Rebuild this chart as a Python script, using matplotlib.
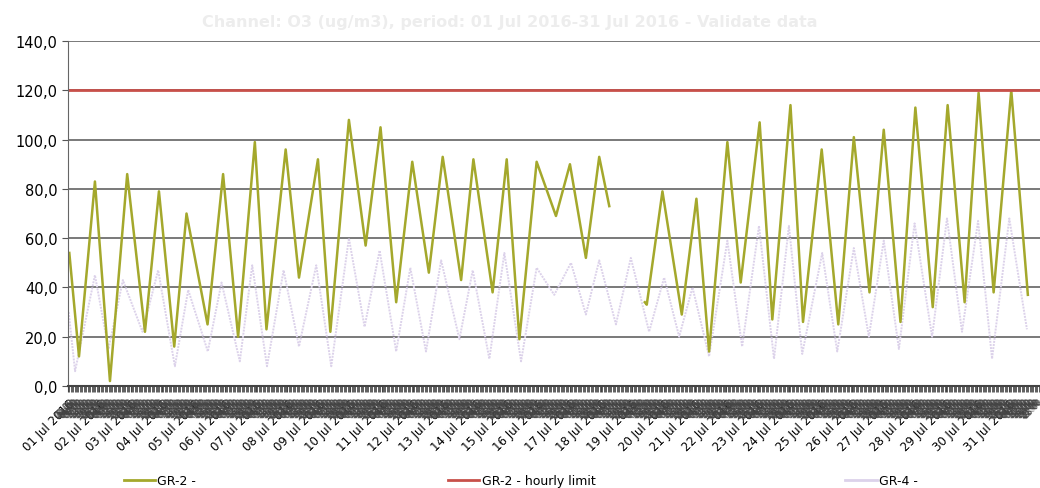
import numpy as np
import matplotlib
matplotlib.use("Agg")
import matplotlib.pyplot as plt
from matplotlib.lines import Line2D

# hours since 01 Jul 2016 00:00, read at the peaks and troughs of the curves
gr2_hours = [1, 8.4, 20.6, 32.1, 45.3, 58.9, 69.6, 81.3, 90.7, 106.8, 118.7, 130.2,
             143, 151.9, 166.6, 176.8, 191.3, 200.8, 215, 227.8, 239.2, 251.2, 263.5,
             276.2, 286.8, 300.9, 310.3, 325, 335.8, 345.5, 358.7, 373.5, 384.2, 396.4,
             406.6, 414.3, 428, 441.5, 443, 455, 469.8, 481, 490.7, 504.7, 514.9, 529.4,
             539.1, 553, 562.6, 576.9, 589.6, 601.5, 613.5, 624.4, 637.2, 648.6, 661.9,
             673.3, 686.3, 697, 708.5, 722, 734.7]
gr2_values = [54, 12, 83, 2, 86, 22, 79, 16, 70, 25, 86, 20,
              99, 23, 96, 44, 92, 22, 108, 57, 105, 34, 91,
              46, 93, 43, 92, 38, 92, 19, 91, 69, 90, 52,
              93, 73, np.nan, 34, 33, 79, 29, 76, 14, 99, 42, 107,
              27, 114, 26, 96, 25, 101, 38, 104, 26, 113, 32,
              114, 34, 119, 38, 120, 37]

gr4_hours = [0.5, 5.4, 20.6, 31, 42, 57, 69, 81.8, 92, 107, 117.5, 131.5, 141, 152.3,
             165, 176.8, 190, 201.5, 215, 227, 238.5, 251.2, 262, 274, 285.6, 299.6,
             309.8, 322.5, 334, 346.8, 358.7, 372.2, 385, 396.4, 406.6, 419.4, 430.8,
             444.8, 456.3, 467.8, 478, 490.7, 504.7, 516, 528.9, 540.4, 551.8, 562,
             577.3, 588.8, 601.5, 613, 624.4, 636, 648, 661.4, 672.8, 684.3, 696.6,
             707.3, 720.5, 734]
gr4_values = [30, 6, 45, 15, 43, 22, 47, 8, 39, 14, 42, 10, 49, 8,
              47, 16, 49, 8, 60, 24, 55, 14, 48, 14, 51, 19,
              47, 11, 54, 10, 48, 37, 50, 29, 51, 25, 52,
              22, 44, 20, 40, 12, 59, 16, 65, 11, 65, 13,
              54, 14, 56, 20, 59, 15, 66, 20, 68, 22, 67,
              11, 68, 23]

hourly_limit = 120
days = list(range(1, 32))
y_ticks = [0, 20, 40, 60, 80, 100, 120, 140]

fig = plt.figure(figsize=(10.4, 4.89), dpi=100)
ax = fig.add_axes([0.0654, 0.2086, 0.9346, 0.7054])

ax.plot(gr4_hours, gr4_values, color="#dcd2ea", linewidth=1.4, linestyle=(0, (1, 0.6)))
ax.plot(gr2_hours, gr2_values, color="#a4a82c", linewidth=1.8)
ax.axhline(hourly_limit, color="#c8504a", linewidth=2)

ax.set_xlim(0, 744)
ax.set_ylim(0, 140)
ax.set_yticks(y_ticks)
ax.set_yticklabels([f"{v:.1f}".replace(".", ",") for v in y_ticks], fontsize=10.5)
ax.yaxis.grid(True, color="#555555", linewidth=1.1)
ax.set_axisbelow(True)

# day labels and the crowded hourly labels under the axis
ax.set_xticks([(d - 1) * 24 for d in days])
ax.set_xticklabels([f"{d:02d} Jul 2016" for d in days], rotation=45, ha="right",
                   va="top", rotation_mode="anchor", fontsize=8.5)
minor = [h for h in range(744) if h % 24 != 0]
ax.set_xticks(minor, minor=True)
ax.set_xticklabels([f"{h % 24:02d}:00" for h in minor], minor=True, rotation=45,
                   ha="right", va="top", rotation_mode="anchor", fontsize=6, color="#444444")
ax.tick_params(axis="x", which="both", length=4, color="#444444")
ax.tick_params(axis="y", length=4, color="#555555")

for side in ["top", "right"]:
    ax.spines[side].set_visible(False)
ax.spines["left"].set_color("#666666")
ax.spines["bottom"].set_color("#444444")
ax.spines["bottom"].set_linewidth(1.5)

fig.text(0.49, 0.955, "Channel: O3 (ug/m3), period: 01 Jul 2016-31 Jul 2016 - Validate data",
         ha="center", va="center", fontsize=11.5, fontweight="bold", color="#ededed")

entries = [("GR-2 -", "#a4a82c", "-", 0.108),
           ("GR-2 - hourly limit", "#c8504a", "-", 0.42),
           ("GR-4 -", "#dcd2ea", "-", 0.802)]
for label, color, ls, xpos in entries:
    h = Line2D([], [], color=color, linestyle=ls, linewidth=2)
    fig.legend([h], [label], loc="center left", bbox_to_anchor=(xpos, 0.015),
               frameon=False, fontsize=9, handlelength=2.5, handletextpad=0.2)

plt.savefig("out.png", dpi=100)
